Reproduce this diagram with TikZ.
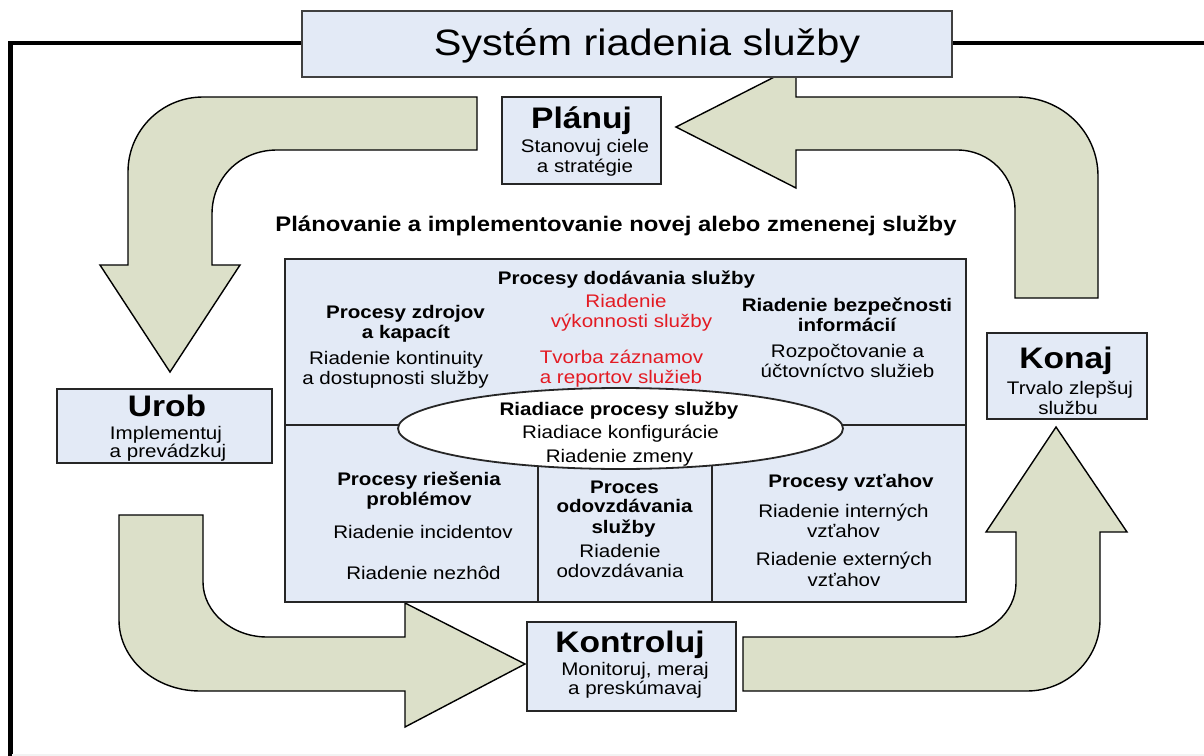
\documentclass[tikz,border=0pt]{standalone}
\usepackage{fontspec}
\setmainfont{Liberation Sans}
\usetikzlibrary{shapes.geometric}
\definecolor{boxblue}{HTML}{E3EAF6}
\definecolor{arrowsage}{HTML}{DCE0C9}
\definecolor{labelred}{HTML}{E31B23}
\begin{document}
\begin{tikzpicture}[x=1bp,y=-1bp,
  frameline/.style={line width=4.5bp, line join=miter},
  blockarrow/.style={fill=arrowsage, draw=black, line width=1.4bp, line join=miter},
  stagebox/.style={draw=black!85, fill=boxblue, line width=1.8bp, inner sep=0pt},
  divider/.style={draw=black!85, line width=1.8bp},
  txt/.style={anchor=base, inner sep=0pt, xscale=1.13, font=\fontsize{18.2bp}{20bp}\selectfont},
  txtb/.style={txt, font=\fontsize{18.2bp}{20bp}\selectfont\bfseries},
  txtred/.style={txt, text=labelred},
  stagename/.style={txt, font=\fontsize{29.7bp}{32bp}\selectfont\bfseries},
  titletxt/.style={txt, font=\fontsize{36.7bp}{40bp}\selectfont},
  subtitletxt/.style={txt, font=\fontsize{21.1bp}{24bp}\selectfont\bfseries}
]
\useasboundingbox (0,0) rectangle (1204,756);

% outer frame
\draw[frameline] (10.3,760) -- (10.3,43) -- (1204,43);
\draw[draw=black!5, line width=2bp] (12,755) -- (1204,755);

% cycle arrows
\draw[blockarrow] (477,97) -- (203,97) .. controls (162,97) and (128,130) .. (128,172)
  -- (128,265) -- (100,265) -- (170,372) -- (240,265) -- (212,265) -- (212,214)
  .. controls (212,178) and (240,150) .. (277,150) -- (477,150) -- cycle;
\draw[blockarrow] (676,127) -- (796,66) -- (796,97) -- (1017,97)
  .. controls (1062,97) and (1098,132) .. (1098,176) -- (1098,298) -- (1015,298) -- (1015,210)
  .. controls (1015,176) and (990,150) .. (957,150) -- (796,150) -- (796,188) -- cycle;
\draw[blockarrow] (743,637) -- (743,691) -- (1027,691)
  .. controls (1067,691) and (1100,659) .. (1100,620) -- (1100,532) -- (1127,532)
  -- (1056,427) -- (986,532) -- (1016,532) -- (1016,583)
  .. controls (1016,613) and (988,637) .. (953,637) -- cycle;
\draw[blockarrow] (119,515) -- (203,515) -- (203,582)
  .. controls (203,612) and (232,637) .. (267,637) -- (405,637) -- (405,603)
  -- (525,664) -- (405,727) -- (405,691) -- (200,691)
  .. controls (155,691) and (119,659) .. (119,620) -- cycle;

% title
\node[draw=black!75, fill=boxblue, line width=1.5bp, inner sep=0pt,
  minimum width=650bp, minimum height=66bp] (titlebox) at (627,44) {};
\node[titletxt] (title) at (647,55.5) {Systém riadenia služby};

% stage boxes
\node[stagebox, minimum width=159bp, minimum height=87bp] (plan) at (581.5,140.5) {};
\node[stagename] (plan1) at (581.5,128) {Plánuj};
\node[txt] (plan2) at (585,152.5) {Stanovuj ciele};
\node[txt] (plan3) at (585,172) {a stratégie};

\node[stagebox, minimum width=215bp, minimum height=74bp] (do) at (164.5,426) {};
\node[stagename] (do1) at (167,416) {Urob};
\node[txt] (do2) at (166,439) {Implementuj};
\node[txt] (do3) at (168,457) {a prevádzkuj};

\node[stagebox, minimum width=160bp, minimum height=86bp] (act) at (1067,376) {};
\node[stagename] (act1) at (1066,368) {Konaj};
\node[txt] (act2) at (1070,394) {Trvalo zlepšuj};
\node[txt] (act3) at (1068,414) {službu};

\node[stagebox, minimum width=209bp, minimum height=89bp] (check) at (631.5,666.5) {};
\node[stagename] (check1) at (630,652) {Kontroluj};
\node[txt] (check2) at (635,675) {Monitoruj, meraj};
\node[txt] (check3) at (635,694.5) {a preskúmavaj};

% heading above the process block
\node[subtitletxt] (sub) at (616,231) {Plánovanie a implementovanie novej alebo zmenenej služby};

% process block
\node[stagebox, minimum width=681bp, minimum height=343bp] (proc) at (625.5,430.5) {};
\draw[divider] (285,425) -- (966,425);
\draw[divider] (538,428) -- (538,602);
\draw[divider] (712,428) -- (712,602);
\node[draw=black!85, fill=white, ellipse, line width=1.8bp, inner sep=0pt,
  minimum width=445bp, minimum height=81bp] (ctrl) at (620.5,428.5) {};

\node[txtb] (del) at (626.5,284) {Procesy dodávania služby};

\node[txtb] (res1) at (405.5,318) {Procesy zdrojov};
\node[txtb] (res2) at (406,338) {a kapacít};
\node[txt] (res3) at (396,364) {Riadenie kontinuity};
\node[txt] (res4) at (395.5,384) {a dostupnosti služby};

\node[txtred] (red1) at (626,307) {Riadenie};
\node[txtred] (red2) at (631.5,327) {výkonnosti služby};
\node[txtred] (red3) at (621.5,363) {Tvorba záznamov};
\node[txtred] (red4) at (621,383) {a reportov služieb};

\node[txtb] (sec1) at (847,311) {Riadenie bezpečnosti};
\node[txtb] (sec2) at (847,331) {informácií};
\node[txt] (sec3) at (847.5,357) {Rozpočtovanie a};
\node[txt] (sec4) at (847.5,377) {účtovníctvo služieb};

\node[txtb] (ctl1) at (619,415) {Riadiace procesy služby};
\node[txt] (ctl2) at (620.5,438) {Riadiace konfigurácie};
\node[txt] (ctl3) at (619.5,462) {Riadenie zmeny};

\node[txtb] (prb1) at (419,485) {Procesy riešenia};
\node[txtb] (prb2) at (419,505) {problémov};
\node[txt] (prb3) at (423,538) {Riadenie incidentov};
\node[txt] (prb4) at (423.5,579) {Riadenie nezhôd};

\node[txtb] (rel1) at (624.5,493) {Proces};
\node[txtb] (rel2) at (624.5,512.5) {odovzdávania};
\node[txtb] (rel3) at (623.5,533) {služby};
\node[txt] (rel4) at (620,557) {Riadenie};
\node[txt] (rel5) at (620,577) {odovzdávania};

\node[txtb] (bus1) at (851,487) {Procesy vzťahov};
\node[txt] (bus2) at (843.5,517) {Riadenie interných};
\node[txt] (bus3) at (843.5,537) {vzťahov};
\node[txt] (bus4) at (844,565) {Riadenie externých};
\node[txt] (bus5) at (844,586) {vzťahov};
\end{tikzpicture}
\end{document}
